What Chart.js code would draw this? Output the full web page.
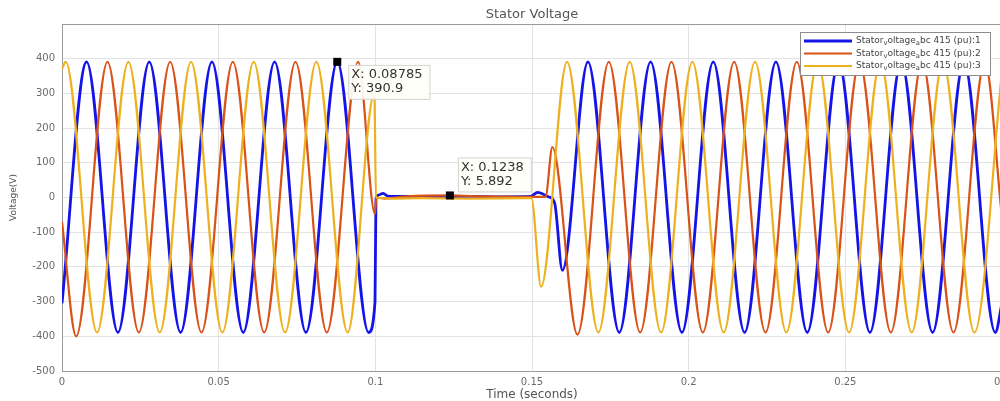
<!DOCTYPE html>
<html>
<head>
<meta charset="utf-8">
<title>Stator Voltage</title>
<script src="https://cdn.jsdelivr.net/npm/chart.js@4.4.0/dist/chart.umd.min.js"></script>
<style>
  html, body { margin: 0; padding: 0; background: #fff; overflow: hidden; }
  canvas { display: block; }
</style>
</head>
<body>
<canvas id="statorChart" width="1004" height="401"></canvas>
<script>
// phase voltages, sampled at the peaks/troughs and around the fault (0.1 s .. 0.15 s)
const seriesNames = [
  "Stator_voltage_abc 415 (pu):1",
  "Stator_voltage_abc 415 (pu):2",
  "Stator_voltage_abc 415 (pu):3",
];

const timeA = [0, 0.00785, 0.01785, 0.02785, 0.03785, 0.04785, 0.05785, 0.06785, 0.07785, 0.08785,
  0.09785, 0.0999, 0.1002, 0.1008, 0.1025, 0.104, 0.11, 0.12, 0.13, 0.14, 0.1495, 0.1518, 0.1552,
  0.1572, 0.1597, 0.16785, 0.17785, 0.18785, 0.19785, 0.20785, 0.21785, 0.22785, 0.23785, 0.24785,
  0.25785, 0.26785, 0.27785, 0.28785, 0.29785, 0.3];
const voltA = [-305, 391, -389, 391, -389, 391, -389, 391, -389, 390.9,
  -389, -300, -5, 6, 12, 4, 3, 2, 3, 2, 3, 15, 2,
  -15, -210, 391, -389, 391, -389, 391, -389, 391, -389, 391,
  -389, 391, -389, 391, -389, -305];

const timeB = [0, 0.00452, 0.01452, 0.02452, 0.03452, 0.04452, 0.05452, 0.06452, 0.07452, 0.08452,
  0.09452, 0.0999, 0.1003, 0.103, 0.11, 0.1238, 0.135, 0.1495, 0.1543, 0.1565, 0.16452, 0.17452,
  0.18452, 0.19452, 0.20452, 0.21452, 0.22452, 0.23452, 0.24452, 0.25452, 0.26452, 0.27452,
  0.28452, 0.29452, 0.3];
const voltB = [-70, -400, 391, -389, 391, -389, 391, -389, 391, -389,
  391, -47, 0, -3, 3, 5.892, 3, 2, 2, 145, -395, 391,
  -389, 391, -389, 391, -389, 391, -389, 391, -389, 391,
  -389, 391, -58];

const timeC = [0, 0.00118, 0.01118, 0.02118, 0.03118, 0.04118, 0.05118, 0.06118, 0.07118, 0.08118,
  0.09118, 0.0997, 0.1002, 0.105, 0.115, 0.13, 0.1498, 0.1529, 0.16118, 0.17118, 0.18118, 0.19118,
  0.20118, 0.21118, 0.22118, 0.23118, 0.24118, 0.25118, 0.26118, 0.27118, 0.28118, 0.29118, 0.3];
const voltC = [370, 391, -389, 391, -389, 391, -389, 391, -389, 391,
  -389, 300, 0, -3, -2, -3, -2, -257, 391, -389, 391, -389,
  391, -389, 391, -389, 391, -389, 391, -389, 391, -389, 364];

const xTicks = [0, 0.05, 0.1, 0.15, 0.2, 0.25, 0.3];
const yTicks = [-500, -400, -300, -200, -100, 0, 100, 200, 300, 400, 500];

// data tips: which series and which sample time
const tipSeries = [0, 1];
const tipTimes = [0.08785, 0.1238];

const seriesTimes = [timeA, timeB, timeC];
const seriesVolts = [voltA, voltB, voltC];

const FONT = "'DejaVu Sans', sans-serif";
const textColor = "#555";
const tickColor = "#6b6b6b";
const gridColor = "#e3e3e3";
const axisColor = "#9a9a9a";
const lineColors = ["#1414e8", "#d95319", "#edb120"];
const lineWidths = [2.8, 2.2, 2.2];

// draws "a_b" style labels with the character after '_' lowered, like TeX
function drawTexText(c, text, x, y, size) {
  let cx = x;
  for (let i = 0; i < text.length; i++) {
    let ch = text[i];
    let sub = false;
    if (ch === "_" && i + 1 < text.length) {
      ch = text[++i];
      sub = true;
    }
    c.font = `${sub ? size * 0.75 : size}px ${FONT}`;
    c.fillText(ch, cx, sub ? y + size * 0.3 : y);
    cx += c.measureText(ch).width;
  }
}

const overlay = {
  id: "overlay",
  afterDraw(chart) {
    const c = chart.ctx;
    const area = chart.chartArea;
    const xs = chart.scales.x;
    const ys = chart.scales.y;
    c.save();

    // box round the axes
    c.strokeStyle = axisColor;
    c.lineWidth = 1;
    c.beginPath();
    c.moveTo(area.left, area.top + 0.5);
    c.lineTo(area.right, area.top + 0.5);
    c.lineTo(area.right - 0.5, area.bottom);
    c.stroke();

    // title
    c.fillStyle = textColor;
    c.font = `13px ${FONT}`;
    c.textAlign = "center";
    c.textBaseline = "middle";
    c.fillText("Stator Voltage", (area.left + area.right) / 2, 15);

    // legend in the top right corner
    const lw = 190, lh = 43;
    const lx = area.right - 12 - lw;
    const ly = area.top + 8;
    c.fillStyle = "#fff";
    c.fillRect(lx, ly, lw, lh);
    c.strokeStyle = "#8c8c8c";
    c.strokeRect(lx + 0.5, ly + 0.5, lw, lh);
    c.textAlign = "left";
    chart.data.datasets.forEach((ds, i) => {
      const ry = ly + 9 + i * 12.5;
      c.strokeStyle = ds.borderColor;
      c.lineWidth = ds.borderWidth;
      c.beginPath();
      c.moveTo(lx + 4, ry);
      c.lineTo(lx + 52, ry);
      c.stroke();
      c.fillStyle = "#444";
      drawTexText(c, ds.label, lx + 56, ry, 9);
    });

    // data tips
    const boxOffsets = [[11, 3], [8, -38]];
    tipSeries.forEach((s, i) => {
      const t = tipTimes[i];
      const v = seriesVolts[s][seriesTimes[s].indexOf(t)];
      const px = xs.getPixelForValue(t);
      const py = ys.getPixelForValue(v);
      c.fillStyle = "#000";
      c.fillRect(px - 4, py - 4, 8, 8);

      const lines = ["X: " + t, "Y: " + v];
      c.font = `13px ${FONT}`;
      const w = Math.max(...lines.map(l => c.measureText(l).width)) + 10;
      const bx = px + boxOffsets[i][0];
      const by = py + boxOffsets[i][1];
      c.fillStyle = "rgba(255, 255, 248, 0.92)";
      c.fillRect(bx, by, w, 34);
      c.strokeStyle = "#d2d2d2";
      c.lineWidth = 1;
      c.strokeRect(bx + 0.5, by + 0.5, w, 34);
      c.fillStyle = "#333";
      c.textBaseline = "middle";
      c.fillText(lines[0], bx + 3, by + 10);
      c.fillText(lines[1], bx + 3, by + 24);
    });

    c.restore();
  },
};

const datasets = seriesNames.map((name, i) => ({
  label: name,
  data: seriesTimes[i].map((t, k) => ({ x: t, y: seriesVolts[i][k] })),
  borderColor: lineColors[i],
  borderWidth: lineWidths[i],
  borderJoinStyle: "round",
  pointRadius: 0,
  cubicInterpolationMode: "monotone",
  fill: false,
  order: 3 - i,
}));

new Chart(document.getElementById("statorChart"), {
  type: "line",
  data: { datasets },
  plugins: [overlay],
  options: {
    responsive: false,
    animation: false,
    devicePixelRatio: 1,
    layout: { padding: { top: 24, right: 2, left: 0, bottom: 0 } },
    plugins: {
      legend: { display: false },
      tooltip: { enabled: false },
      title: { display: false },
    },
    scales: {
      x: {
        type: "linear",
        min: xTicks[0],
        max: xTicks[xTicks.length - 1],
        afterBuildTicks: (s) => { s.ticks = xTicks.map(v => ({ value: v })); },
        // keep the end labels from pulling the plot area in
        afterFit: (s) => { s.height = 30; s.paddingLeft = 0; s.paddingRight = 0; },
        ticks: {
          color: tickColor,
          font: { family: FONT, size: 10 },
          padding: 5,
          maxRotation: 0,
          autoSkip: false,
          callback: (v) => String(Math.round(v * 100) / 100),
        },
        grid: { color: gridColor, drawTicks: false },
        border: { color: axisColor },
        title: {
          display: true,
          text: "Time (seconds)",
          color: textColor,
          font: { family: FONT, size: 12, lineHeight: 1 },
          padding: { top: 0, bottom: 0 },
        },
      },
      y: {
        type: "linear",
        min: yTicks[0],
        max: yTicks[yTicks.length - 1],
        afterBuildTicks: (s) => { s.ticks = yTicks.map(v => ({ value: v })); },
        afterFit: (s) => { s.width = 62; s.paddingTop = 0; s.paddingBottom = 0; },
        ticks: {
          color: tickColor,
          font: { family: FONT, size: 10 },
          padding: 7,
          autoSkip: false,
          callback: (v) => (v === 500 ? "" : String(v)),
        },
        grid: { color: gridColor, drawTicks: false },
        border: { color: axisColor },
        title: {
          display: true,
          text: "Voltage(V)",
          color: textColor,
          font: { family: FONT, size: 9, lineHeight: 1 },
          padding: { top: 9, bottom: 0 },
        },
      },
    },
  },
});
</script>
</body>
</html>
